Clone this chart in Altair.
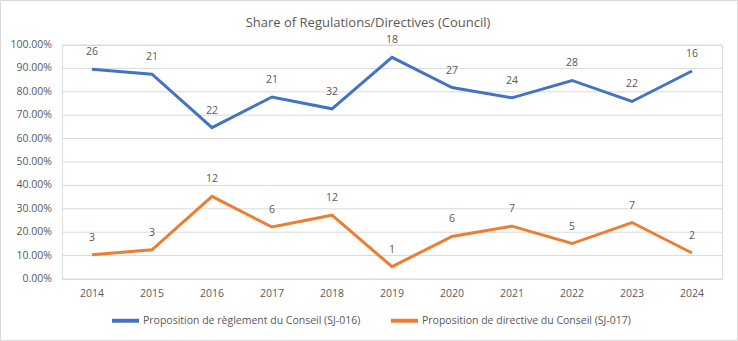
import altair as alt
import pandas as pd

years = ["2014", "2015", "2016", "2017", "2018", "2019", "2020", "2021", "2022", "2023", "2024"]
reg_name = "Proposition de règlement du Conseil (SJ-016)"
dir_name = "Proposition de directive du Conseil (SJ-017)"
reg_counts = [26, 21, 22, 21, 32, 18, 27, 24, 28, 22, 16]
dir_counts = [3, 3, 12, 6, 12, 1, 6, 7, 5, 7, 2]
reg_share = [0.8966, 0.8750, 0.6471, 0.7778, 0.7273, 0.9474, 0.8182, 0.7742, 0.8485, 0.7586, 0.8889]
dir_share = [0.1034, 0.1250, 0.3529, 0.2222, 0.2727, 0.0526, 0.1818, 0.2258, 0.1515, 0.2414, 0.1111]
y_ticks = [0.0, 0.1, 0.2, 0.3, 0.4, 0.5, 0.6, 0.7, 0.8, 0.9, 1.0]
title_text = "Share of Regulations/Directives (Council)"

rows = []
for i, y in enumerate(years):
    rows.append({"year": y, "series": reg_name, "share": reg_share[i], "count": reg_counts[i]})
    rows.append({"year": y, "series": dir_name, "share": dir_share[i], "count": dir_counts[i]})
df = pd.DataFrame(rows)
tick_df = pd.DataFrame({"share": y_ticks})

FONT = "Open Sans"
TXT = "#595959"
GRID = "#d9d9d9"

y_scale = alt.Scale(domain=[0, 1], nice=False)

x_enc = alt.X("year:O", title=None,
              scale=alt.Scale(type="band", paddingInner=0, paddingOuter=0),
              axis=alt.Axis(labelAngle=0, ticks=False, domain=False, grid=False,
                            labelPadding=9, labelFont=FONT, labelFontSize=10.5,
                            labelColor=TXT))
y_enc = alt.Y("share:Q", title=None, scale=y_scale, axis=None)
color_enc = alt.Color("series:N",
                      scale=alt.Scale(domain=[reg_name, dir_name], range=["#4472C4", "#ED7D31"]),
                      legend=alt.Legend(title=None, orient="none", legendX=48, legendY=260,
                                        direction="horizontal", columns=2,
                                        symbolType="stroke", symbolSize=729,
                                        symbolStrokeWidth=4, labelOffset=2,
                                        columnPadding=22, labelLimit=400,
                                        labelFont=FONT, labelFontSize=10.5, labelColor=TXT))

grid = alt.Chart(tick_df).mark_rule(color=GRID, strokeWidth=1).encode(
    y=y_enc, x=alt.value(0), x2=alt.value(660))
ylabels = alt.Chart(tick_df).mark_text(align="right", baseline="middle", font=FONT,
                                       fontSize=10.5, color=TXT).encode(
    y=y_enc, x=alt.value(-10), text=alt.Text("share:Q", format=".2%"))

base = alt.Chart(df)
lines = base.mark_line(strokeWidth=3).encode(x=x_enc, y=y_enc, color=color_enc,
                                             order=alt.Order("year:O"))
labels = base.mark_text(dy=-12, baseline="bottom", font=FONT, fontSize=10.5, color=TXT).encode(
    x=x_enc, y=y_enc, text=alt.Text("count:Q"))

title = alt.Chart(pd.DataFrame({"t": [title_text]})).mark_text(
    font=FONT, fontSize=13, color=TXT, align="center", baseline="alphabetic").encode(
    x=alt.value(306), y=alt.value(-18), text="t:N")

border = alt.Chart(pd.DataFrame({"k": [0]})).mark_rect(fill=None, stroke=GRID, strokeWidth=1).encode(
    x=alt.value(-61.5), x2=alt.value(675.5), y=alt.value(-44.5), y2=alt.value(295.5))

chart = alt.layer(grid, ylabels, lines, labels, title, border).properties(
    width=660, height=234,
    padding={"left": 62, "top": 45, "right": 16, "bottom": 62},
    autosize=alt.AutoSizeParams(type="none"),
).configure_view(stroke=None).configure(background="white")

chart.save("out.html", embed_options={"renderer": "svg", "actions": False})
